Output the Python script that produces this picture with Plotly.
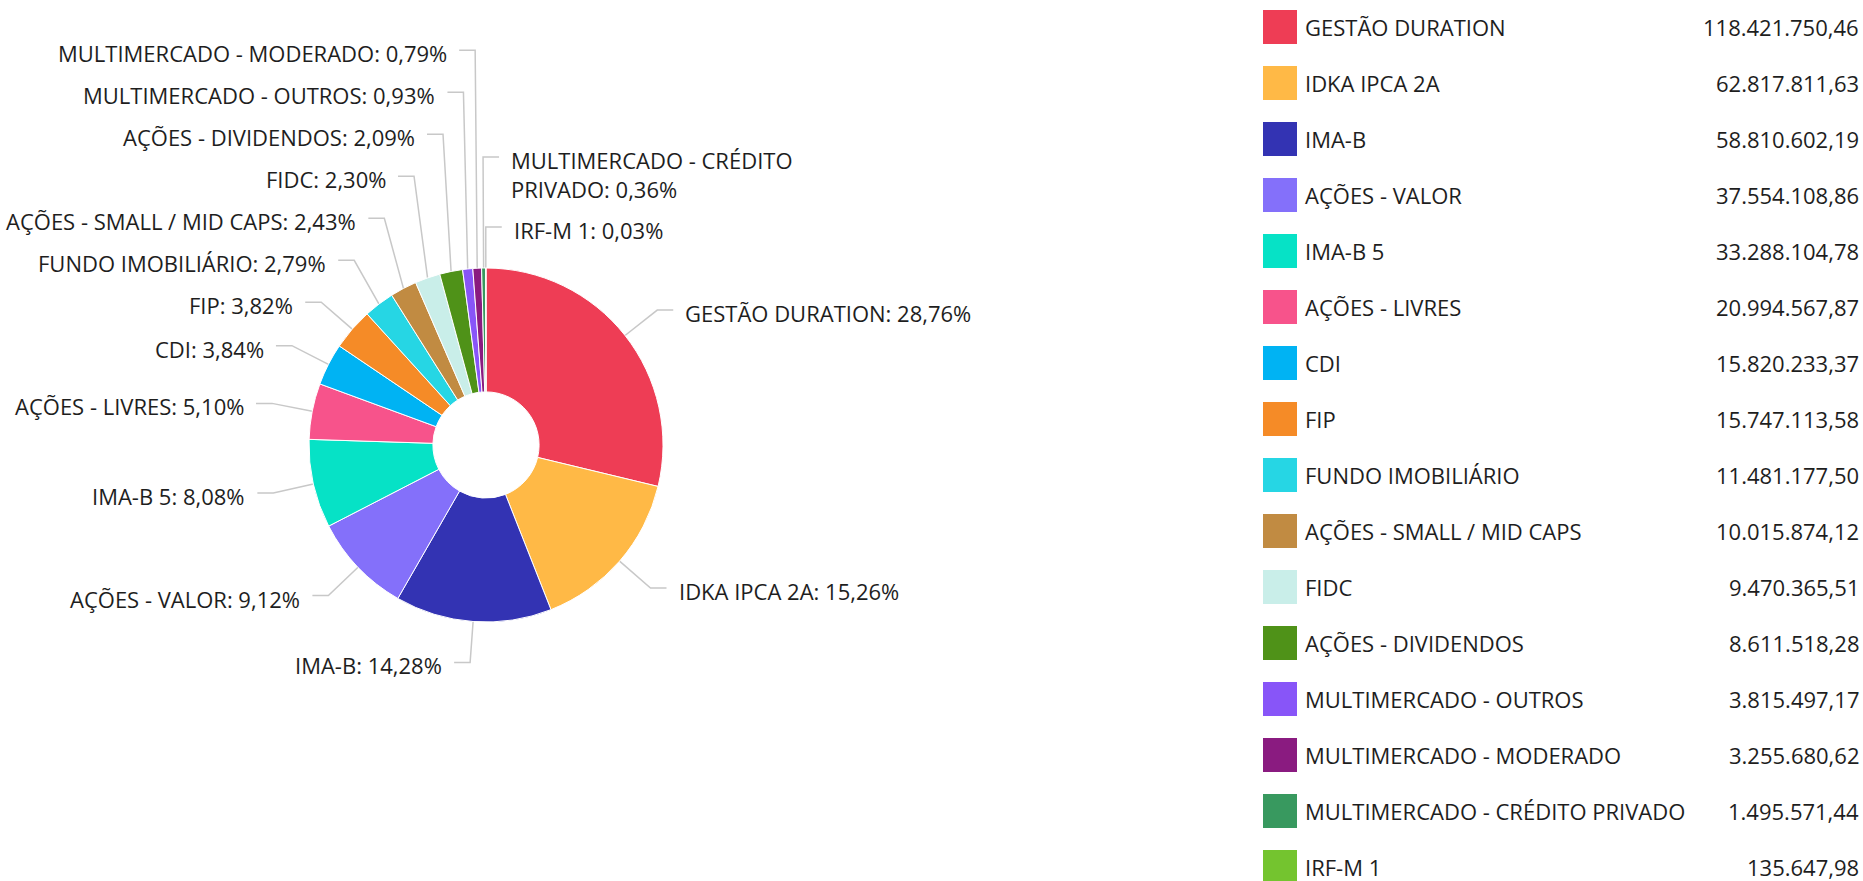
import math
import plotly.graph_objects as go

# ---------------- data ----------------
categories = [
    "GESTÃO DURATION", "IDKA IPCA 2A", "IMA-B", "AÇÕES - VALOR", "IMA-B 5",
    "AÇÕES - LIVRES", "CDI", "FIP", "FUNDO IMOBILIÁRIO", "AÇÕES - SMALL / MID CAPS",
    "FIDC", "AÇÕES - DIVIDENDOS", "MULTIMERCADO - OUTROS", "MULTIMERCADO - MODERADO",
    "MULTIMERCADO - CRÉDITO PRIVADO", "IRF-M 1",
]
values = [
    118421750.46, 62817811.63, 58810602.19, 37554108.86, 33288104.78,
    20994567.87, 15820233.37, 15747113.58, 11481177.50, 10015874.12,
    9470365.51, 8611518.28, 3815497.17, 3255680.62,
    1495571.44, 135647.98,
]
colors = [
    "#ee3d55", "#ffb946", "#3333b3", "#8470fa", "#06e2c6",
    "#f7538b", "#00b3f3", "#f58b27", "#26d6e4", "#c18b42",
    "#c9eee9", "#4f9218", "#8855f8", "#8a1b80",
    "#38995f", "#74c42f",
]

# ---------------- layout constants ----------------
W, H = 1863, 881
CX, CY, R = 486, 445, 177
HOLE = 0.30
RK = 218          # radius of label knee
BASE_GAP = 42     # vertical gap between single-line labels
LINE_H = 28       # extra height per extra line
LABEL_FONT = 22
LEGEND_FONT = 22
TEXT_COLOR = "#1e1e1e"
CONN_COLOR = "#c8c8c8"
FONT = "Open Sans"


def fmt_pct(p):
    return f"{p:.2f}".replace(".", ",") + "%"


def fmt_val(v):
    s = f"{v:,.2f}"
    return s.replace(",", "X").replace(".", ",").replace("X", ".")


def wrap(text, maxc):
    words = text.split(" ")
    lines, cur = [], ""
    for w in words:
        cand = (cur + " " + w).strip()
        if len(cand) > maxc and cur:
            lines.append(cur)
            cur = w
        else:
            cur = cand
    lines.append(cur)
    return lines


def px(x):
    return x / W


def py(y):
    return 1 - y / H


total = sum(values)
pcts = [v / total * 100 for v in values]

fig = go.Figure()
fig.add_trace(go.Pie(
    labels=categories, values=values, sort=False, direction="clockwise",
    rotation=0, hole=HOLE, textinfo="none",
    marker=dict(colors=colors, line=dict(color="#ffffff", width=1)),
    domain=dict(x=[px(CX - R), px(CX + R)], y=[py(CY + R), py(CY - R)]),
    showlegend=False,
    hovertemplate="%{label}: %{percent}<extra></extra>",
))

# ---------------- label geometry ----------------
items = []
cum = 0.0
for i, (c, v) in enumerate(zip(categories, values)):
    mid = (cum + v / 2) / total * 360.0
    cum += v
    t = math.radians(mid)
    s, co = math.sin(t), math.cos(t)
    side = "left" if s < -0.03 else "right"
    text = f"{c}: {fmt_pct(pcts[i])}"
    lines = wrap(text, 24) if side == "right" else [text]
    items.append(dict(
        i=i, angle=mid, side=side, lines=lines,
        kx=CX + RK * s, ky=CY - RK * co,
        ex=CX + R * s, ey=CY - R * co,
    ))

for side in ("left", "right"):
    grp = [it for it in items if it["side"] == side]
    if side == "left":
        grp.sort(key=lambda it: -it["angle"])
    else:
        grp.sort(key=lambda it: it["angle"] - 360 if it["angle"] > 180 else it["angle"])
    upper = [it for it in grp if it["ky"] < CY]
    lower = [it for it in grp if it["ky"] >= CY]
    prev = None
    for it in reversed(upper):
        if prev is None:
            it["pos"] = it["ky"]
        else:
            it["pos"] = min(it["ky"], prev["pos"] - (BASE_GAP + (len(it["lines"]) - 1) * LINE_H))
        prev = it
    prev = None
    for it in lower:
        if prev is None:
            it["pos"] = it["ky"]
        else:
            it["pos"] = max(it["ky"], prev["pos"] + BASE_GAP + (len(prev["lines"]) - 1) * LINE_H)
        prev = it

shapes = []
annotations = []
for it in items:
    sgn = -1 if it["side"] == "left" else 1
    kx, pos = it["kx"], it["pos"]
    x_start = kx + sgn * 16
    path = (f"M {px(x_start)},{py(pos)} L {px(kx)},{py(pos)} "
            f"L {px(it['ex'])},{py(it['ey'])}")
    shapes.append(dict(type="path", xref="paper", yref="paper", path=path,
                       line=dict(color=CONN_COLOR, width=1.5), layer="below"))
    n = len(it["lines"])
    ycenter = pos + 3 + (n - 1) * LINE_H / 2
    annotations.append(dict(
        xref="paper", yref="paper", x=px(kx + sgn * 26), y=py(ycenter),
        xanchor="right" if sgn < 0 else "left", yanchor="middle",
        text="<br>".join(it["lines"]), showarrow=False, align="left",
        font=dict(family=FONT, size=LABEL_FONT, color=TEXT_COLOR),
    ))

# ---------------- custom legend ----------------
LEG_X0, LEG_SW, LEG_SH = 1263, 34, 34
LEG_Y0, LEG_STEP = 27, 56
LEG_TEXT_X, LEG_VAL_X = 1303, 1861
for i, (c, v, col) in enumerate(zip(categories, values, colors)):
    yc = LEG_Y0 + LEG_STEP * i
    shapes.append(dict(type="rect", xref="paper", yref="paper",
                       x0=px(LEG_X0), x1=px(LEG_X0 + LEG_SW),
                       y0=py(yc + LEG_SH / 2), y1=py(yc - LEG_SH / 2),
                       fillcolor=col, line=dict(width=0)))
    annotations.append(dict(
        xref="paper", yref="paper", x=px(LEG_TEXT_X), y=py(yc),
        xanchor="left", yanchor="middle", text=c, showarrow=False,
        font=dict(family=FONT, size=LEGEND_FONT, color=TEXT_COLOR)))
    annotations.append(dict(
        xref="paper", yref="paper", x=px(LEG_VAL_X), y=py(yc),
        xanchor="right", yanchor="middle", text=fmt_val(v), showarrow=False,
        font=dict(family=FONT, size=LEGEND_FONT, color=TEXT_COLOR)))

fig.update_layout(
    width=W, height=H, margin=dict(l=0, r=0, t=0, b=0),
    paper_bgcolor="#ffffff", plot_bgcolor="#ffffff",
    font=dict(family=FONT, color=TEXT_COLOR),
    shapes=shapes, annotations=annotations,
)

fig.write_html("out.html", config={"displayModeBar": False},
               post_script="document.body.style.margin='0';")
